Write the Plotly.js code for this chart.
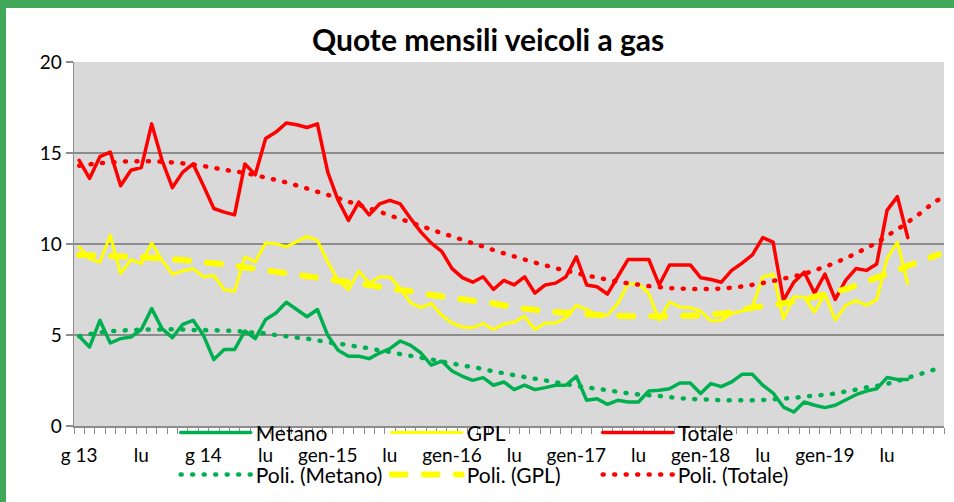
<!DOCTYPE html>
<html><head><meta charset="utf-8">
<script src="https://cdn.plot.ly/plotly-3.0.1.min.js"></script>
<style>
html,body{margin:0;padding:0;background:#fff;}
#frame{position:relative;width:954px;height:502px;background:#41a85a;overflow:hidden;}
#chart{position:absolute;left:6px;top:8px;width:948px;height:494px;background:#fff;}
path.js-line{stroke-linecap:round;stroke-linejoin:round;}
</style></head><body>
<div id="frame"><div id="chart"></div></div>
<script>
// Tick labels (every 6 months, starting gen-13)
const tickPositions = [0, 6, 12, 18, 24, 30, 36, 42, 48, 54, 60, 66, 72, 78];
const tickLabels = ["g 13", "lu", "g 14", "lu", "gen-15", "lu", "gen-16", "lu", "gen-17", "lu", "gen-18", "lu", "gen-19", "lu"];
const nMonths = 84;

// Monthly shares (%)
const metano = [4.93,4.34,5.81,4.56,4.8,4.89,5.3,6.45,5.35,4.86,
  5.59,5.81,4.98,3.65,4.2,4.2,5.22,4.8,5.85,6.21,
  6.8,6.4,6.0,6.4,4.98,4.16,3.83,3.83,3.7,4.01,
  4.25,4.67,4.43,4.01,3.34,3.57,3.02,2.73,2.51,2.66,
  2.24,2.42,2.0,2.24,2.0,2.11,2.24,2.24,2.73,1.41,
  1.5,1.19,1.41,1.32,1.32,1.92,1.96,2.05,2.36,2.36,
  1.78,2.33,2.16,2.42,2.84,2.84,2.24,1.81,1.04,0.77,
  1.32,1.14,1.01,1.14,1.41,1.72,1.92,2.05,2.66,2.55,2.55];
const gpl = [9.84,9.2,9.0,10.48,8.37,9.14,8.92,10.06,9.1,8.34,
  8.52,8.65,8.19,8.28,7.49,7.4,9.29,9.01,10.05,10.02,
  9.84,10.11,10.42,10.2,9.01,8.0,7.49,8.52,7.86,8.19,
  8.19,7.55,6.76,6.5,6.73,6.08,5.66,5.44,5.4,5.63,
  5.3,5.6,5.71,6.03,5.3,5.66,5.66,5.95,6.63,6.39,
  6.12,6.08,6.73,7.82,7.82,7.27,5.81,6.81,6.54,6.5,
  6.32,5.77,5.81,6.18,6.32,6.54,8.19,8.34,5.9,7.09,
  7.09,6.26,7.27,5.81,6.63,6.9,6.63,6.94,9.2,10.11,7.82];
const totale = [14.6,13.6,14.8,15.05,13.2,14.05,14.2,16.6,14.6,13.1,
  13.95,14.4,13.2,11.95,11.75,11.6,14.4,13.8,15.8,16.15,
  16.65,16.55,16.4,16.6,13.95,12.4,11.3,12.3,11.6,12.2,
  12.4,12.2,11.4,10.65,10.05,9.6,8.65,8.15,7.9,8.2,
  7.5,8.0,7.75,8.2,7.3,7.75,7.85,8.2,9.3,7.75,
  7.65,7.25,8.2,9.15,9.15,9.15,7.75,8.85,8.85,8.85,
  8.15,8.05,7.9,8.55,8.95,9.4,10.35,10.1,6.9,7.9,
  8.45,7.3,8.35,6.95,8.0,8.65,8.55,8.9,11.85,12.6,10.35];

// Polynomial trend lines (84 months)
const poliMetano = [4.93,5.05,5.14,5.2,5.24,5.27,5.29,5.3,5.3,5.31,
  5.3,5.28,5.27,5.26,5.24,5.22,5.18,5.12,5.08,5.0,
  4.93,4.86,4.8,4.71,4.6,4.52,4.45,4.35,4.27,4.16,
  4.07,3.95,3.86,3.75,3.65,3.54,3.44,3.32,3.24,3.13,
  3.0,2.9,2.79,2.69,2.6,2.5,2.4,2.31,2.2,2.13,
  2.04,1.97,1.88,1.8,1.73,1.69,1.65,1.59,1.53,1.49,
  1.46,1.45,1.41,1.41,1.41,1.41,1.43,1.47,1.51,1.54,
  1.62,1.66,1.72,1.79,1.9,2.0,2.12,2.2,2.32,2.47,
  2.65,2.82,3.0,3.17];
const poliGpl = [9.4,9.38,9.36,9.34,9.32,9.3,9.28,9.24,9.2,9.16,
  9.12,9.06,9.0,8.94,8.88,8.8,8.72,8.64,8.56,8.47,
  8.4,8.32,8.23,8.15,8.06,7.98,7.9,7.82,7.74,7.65,
  7.56,7.48,7.4,7.3,7.2,7.12,7.03,6.96,6.88,6.8,
  6.73,6.62,6.54,6.45,6.38,6.32,6.26,6.22,6.18,6.14,
  6.1,6.08,6.06,6.04,6.03,6.03,6.03,6.03,6.05,6.06,
  6.08,6.12,6.17,6.27,6.4,6.5,6.58,6.65,6.75,6.85,
  6.95,7.1,7.22,7.38,7.52,7.72,7.92,8.15,8.35,8.55,
  8.8,9.0,9.22,9.43];
const poliTotale = [14.3,14.38,14.44,14.48,14.52,14.55,14.55,14.55,14.52,14.48,
  14.43,14.37,14.28,14.18,14.08,14.0,13.9,13.78,13.65,13.52,
  13.38,13.22,13.05,12.87,12.7,12.52,12.33,12.15,11.96,11.77,
  11.57,11.38,11.18,10.99,10.8,10.6,10.42,10.23,10.04,9.86,
  9.67,9.49,9.32,9.15,8.98,8.83,8.67,8.54,8.4,8.27,
  8.16,8.04,7.93,7.84,7.77,7.69,7.63,7.58,7.55,7.53,
  7.53,7.53,7.55,7.6,7.67,7.76,7.86,7.97,8.1,8.22,
  8.36,8.55,8.75,8.97,9.22,9.48,9.78,10.07,10.45,10.8,
  11.2,11.6,12.05,12.45];

const GREEN = '#00B050', YELLOW = '#FFFF00', RED = '#FF0000';
const idx = arr => arr.map((_, i) => i);

const traces = [
  {x: idx(metano), y: metano, name: 'Metano', mode: 'lines', line: {color: GREEN, width: 3.5}, legend: 'legend'},
  {x: idx(gpl), y: gpl, name: 'GPL', mode: 'lines', line: {color: YELLOW, width: 3}, legend: 'legend'},
  {x: idx(totale), y: totale, name: 'Totale', mode: 'lines', line: {color: RED, width: 3.5}, legend: 'legend'},
  {x: idx(poliMetano), y: poliMetano, name: 'Poli. (Metano)', mode: 'lines', line: {color: GREEN, width: 4.5, dash: '1px,10.5px', shape: 'spline'}, legend: 'legend2'},
  {x: idx(poliGpl), y: poliGpl, name: 'Poli. (GPL)', mode: 'lines', line: {color: YELLOW, width: 6, dash: '14px,18px', shape: 'spline'}, legend: 'legend2'},
  {x: idx(poliTotale), y: poliTotale, name: 'Poli. (Totale)', mode: 'lines', line: {color: RED, width: 4.5, dash: '1px,10.5px', shape: 'spline'}, legend: 'legend2'}
];

const FONT = 'Lato, "Open Sans", sans-serif';
const legendBase = {
  orientation: 'h', xref: 'container', yref: 'container', xanchor: 'left', yanchor: 'middle',
  entrywidth: 126, entrywidthmode: 'pixels', itemwidth: 70,
  bgcolor: 'rgba(0,0,0,0)', borderwidth: 0,
  font: {family: FONT, size: 21, color: '#000'}
};

const layout = {
  width: 948, height: 494,
  margin: {l: 68, r: 10, t: 54, b: 76, pad: 0, autoexpand: false},
  paper_bgcolor: '#FFFFFF', plot_bgcolor: '#D9D9D9',
  showlegend: true,
  title: {text: '<b>Quote mensili veicoli a gas</b>', font: {family: FONT, size: 30, color: '#000'},
          xref: 'paper', x: 0.476, xanchor: 'center', yref: 'container', y: 0.935, yanchor: 'middle'},
  xaxis: {
    range: [-0.5, nMonths - 0.5], tickmode: 'array', tickvals: tickPositions, ticktext: tickLabels,
    ticks: 'outside', ticklen: 6, tickcolor: 'rgba(0,0,0,0)', ticklabelstandoff: 6,
    showgrid: false, zeroline: false,
    showline: true, linecolor: '#8C8C8C', linewidth: 1.5,
    tickfont: {family: FONT, size: 19, color: '#000'},
    minor: {ticks: 'outside', tickmode: 'linear', tick0: -0.5, dtick: 1, ticklen: 6, tickcolor: '#8C8C8C', tickwidth: 1, showgrid: false},
    fixedrange: true
  },
  yaxis: {
    range: [0, 20], tickmode: 'linear', tick0: 0, dtick: 5,
    ticks: 'outside', ticklen: 7, tickcolor: '#8C8C8C', tickwidth: 1.5,
    showgrid: true, gridcolor: '#8C8C8C', gridwidth: 1.5, zeroline: false,
    showline: true, linecolor: '#8C8C8C', linewidth: 1.5,
    tickfont: {family: FONT, size: 19, color: '#000'},
    fixedrange: true
  },
  legend: Object.assign({}, legendBase, {x: 0.179, y: 0.14}),
  legend2: Object.assign({}, legendBase, {x: 0.179, y: 0.055})
};

Plotly.newPlot('chart', traces, layout, {displayModeBar: false, staticPlot: true});
</script>
</body></html>
